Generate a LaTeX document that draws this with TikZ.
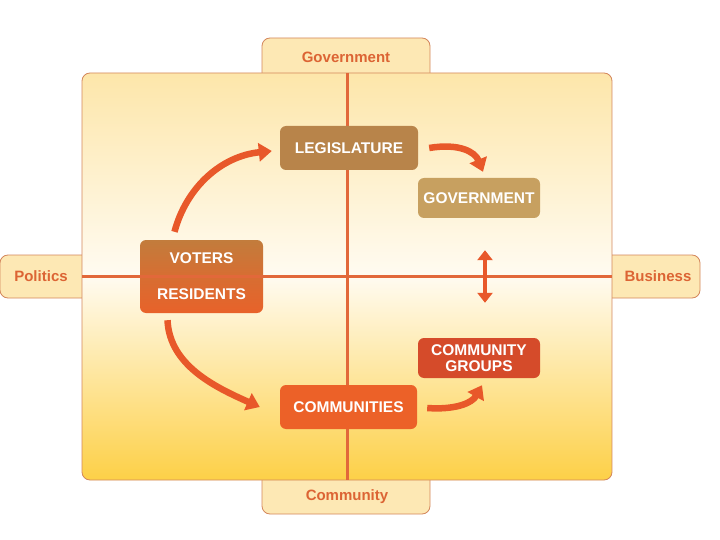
\documentclass[tikz,border=0pt]{standalone}
\usepackage{fontspec}
\setmainfont{Liberation Sans}
\usetikzlibrary{arrows.meta,calc}
\definecolor{tabfill}{HTML}{FDE8B4}
\definecolor{edge}{HTML}{D4875C}
\definecolor{tabtext}{HTML}{DC6434}
\definecolor{cross}{HTML}{E2683A}
\definecolor{flow}{HTML}{E8582A}
\definecolor{paletop}{HTML}{FDE6AA}
\definecolor{palemid}{HTML}{FFFBF1}
\definecolor{goldlow}{HTML}{FDD047}
\definecolor{legfill}{HTML}{B8844A}
\definecolor{govfill}{HTML}{C7A060}
\definecolor{votfill}{HTML}{C27C3C}
\definecolor{resfill}{HTML}{E8622A}
\definecolor{comfill}{HTML}{EC6128}
\definecolor{grpfill}{HTML}{D54B2A}
\tikzset{
  tab/.style={fill=tabfill, draw=edge, line width=0.8pt, rounded corners=8pt},
  tablab/.style={font=\fontsize{15}{17}\selectfont\bfseries, text=tabtext, inner sep=0pt},
  box/.style={rounded corners=6pt, text=white, align=center,
    font=\fontsize{15.5}{18}\selectfont\bfseries, inner sep=0pt},
  curvearrow/.style={flow, line width=6.5pt, -{Triangle[length=13pt,width=18pt]}},
  dbl/.style={flow, line width=3.5pt, {Triangle[length=10pt,width=15pt]}-{Triangle[length=10pt,width=15pt]}},
}
\begin{document}
\begin{tikzpicture}[x=1pt,y=-1pt]
\useasboundingbox[fill=white] (0,0) rectangle (720,540);

% ---------------- tabs (behind the panel) ----------------
\draw[tab] (262,38) rectangle (430,95);
\draw[tab] (262,458) rectangle (430,514);
\draw[tab] (0,255) rectangle (105,298);
\draw[tab] (590,255) rectangle (700,298);
\node[tablab] (tgov) at (346,57) {Government};
\node[tablab] (tcom) at (347,497) {Community};
\node[tablab] (tpol) at (41,276) {Politics};
\node[tablab] (tbus) at (658,276) {Business};

% ---------------- panel, two shaded halves ----------------
\begin{scope}
  \clip[rounded corners=8pt] (82,73) rectangle (612,480);
  \shade[top color=paletop, bottom color=palemid] (82,73) rectangle (612,276);
  \shade[top color=palemid, middle color=paletop!80!goldlow, bottom color=goldlow] (82,276) rectangle (612,480);
\end{scope}
\draw[edge, line width=0.8pt, rounded corners=8pt] (82,73) rectangle (612,480);

% the cross
\draw[cross, line width=3pt] (347,73) -- (347,480);

% ---------------- boxes ----------------
\node[box, fill=legfill, minimum width=138pt, minimum height=44pt] (leg) at (349,148) {LEGISLATURE};
\node[box, fill=govfill, minimum width=122pt, minimum height=40pt] (gov) at (479,198) {GOVERNMENT};
\node[box, top color=votfill, bottom color=resfill, middle color=votfill!45!resfill,
      minimum width=123pt, minimum height=73pt] (voters) at (201.5,276.5) {VOTERS\\[18pt]RESIDENTS};
\node[box, fill=comfill, minimum width=137pt, minimum height=44pt] (comm) at (348.5,407) {COMMUNITIES};
\node[box, fill=grpfill, minimum width=122pt, minimum height=40pt] (groups) at (479,358) {COMMUNITY\\[-2pt]GROUPS};

\draw[cross, line width=3pt] (82,276) -- (612,276);

% ---------------- arrows ----------------
\draw[curvearrow] ($(voters.north)+(-27,-8)$) .. controls +(12,-45) and +(-50,5) .. ($(leg.west)+(-8,3)$);
\draw[curvearrow] ($(leg.east)+(11,0)$) .. controls +(30,-5) and +(-8,-20) .. ($(gov.north)+(4,-6)$);
\draw[dbl, shorten <=32pt, shorten >=35pt] ([xshift=6pt]gov.south) -- ([xshift=6pt]groups.north);
\draw[curvearrow] ($(voters.south)+(-34,7)$) .. controls +(2,45) and +(-45,-20) .. ($(comm.west)+(-20,0)$);
\draw[curvearrow] ($(comm.east)+(10,1)$) .. controls +(28,2) and +(-10,18) .. ($(groups.south)+(3,7)$);

\end{tikzpicture}
\end{document}
